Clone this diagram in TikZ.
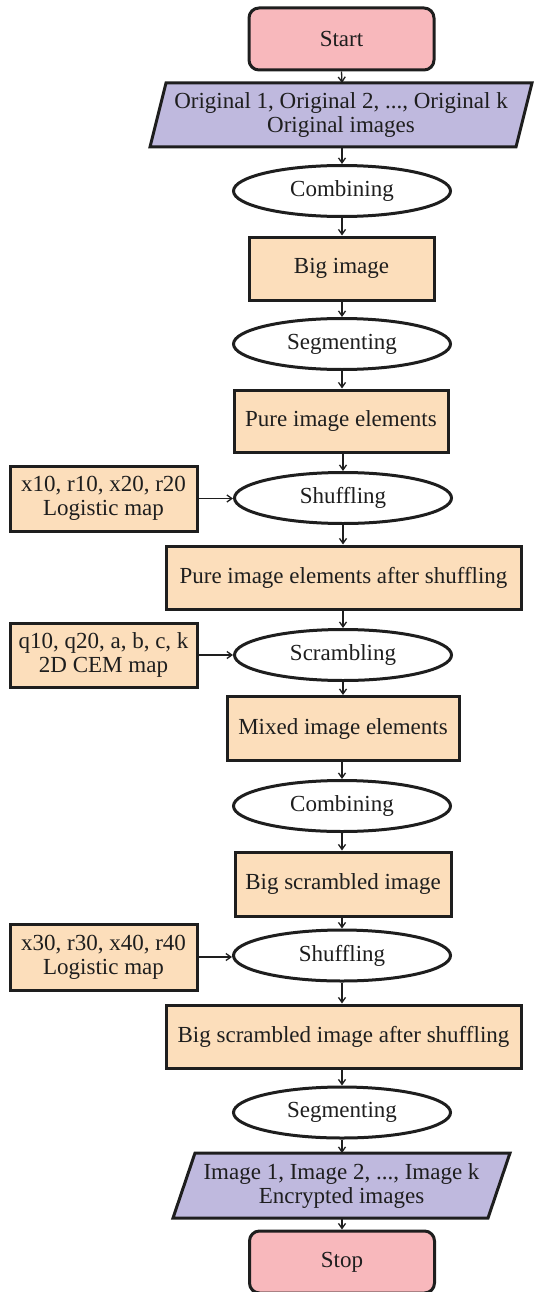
\documentclass[tikz,border=0pt]{standalone}
\usepackage{fontspec}
\setmainfont{Liberation Serif}
\usetikzlibrary{shapes.geometric,arrows.meta}
\definecolor{pinkc}{RGB}{248,184,188}
\definecolor{lavc}{RGB}{191,185,222}
\definecolor{peachc}{RGB}{252,222,187}
\definecolor{linec}{RGB}{30,30,30}
\begin{document}
\begin{tikzpicture}[x=1pt,y=-1pt,
  every node/.style={font=\fontsize{23}{24}\selectfont, text=linec, align=center, inner sep=0pt},
  term/.style={draw=linec, line width=3pt, rounded corners=10pt, fill=pinkc, minimum width=185pt, minimum height=62pt},
  proc/.style={draw=linec, line width=3pt, fill=peachc, minimum height=62pt},
  oval/.style={draw=linec, line width=3pt, ellipse, fill=white, minimum width=217pt, minimum height=51pt},
  iobox/.style={fill=lavc, draw=linec, line width=3pt, line join=miter},
  arr/.style={draw=linec, line width=1.3pt, -{Straight Barb[length=5pt,width=7pt]}}
]
\useasboundingbox (0,0) rectangle (533,1292);
% parallelogram outlines
\coordinate (inTL) at (166,83);
\coordinate (inTR) at (532,83);
\coordinate (inBR) at (516,147);
\coordinate (inBL) at (150,147);
\coordinate (outTL) at (195,1153);
\coordinate (outTR) at (510,1153);
\coordinate (outBR) at (488,1218);
\coordinate (outBL) at (173,1218);
\path[iobox] (inTL) -- (inTR) -- (inBR) -- (inBL) -- cycle;
\path[iobox] (outTL) -- (outTR) -- (outBR) -- (outBL) -- cycle;
% main column
\node[term] (start) at (341.5,39) {Start};
\node (in) at (341,115) {Original 1, Original 2, ..., Original k\\Original images};
\node[oval] (comb1) at (342,191) {Combining};
\node[proc, minimum width=185pt, minimum height=63pt] (big) at (341.5,268.5) {Big image};
\node[oval] (seg1) at (342,344) {Segmenting};
\node[proc, minimum width=214pt] (pure) at (341,421) {Pure image elements};
\node[oval] (shuf1) at (343,498) {Shuffling};
\node[proc, minimum width=355pt, minimum height=63pt] (pureafter) at (343.5,577.5) {Pure image elements after shuffling};
\node[oval] (scr) at (343,655) {Scrambling};
\node[proc, minimum width=232pt, minimum height=64pt] (mixed) at (343,728.5) {Mixed image elements};
\node[oval] (comb2) at (342,806) {Combining};
\node[proc, minimum width=216pt, minimum height=64pt] (bigscr) at (343,884) {Big scrambled image};
\node[oval] (shuf2) at (342,955.5) {Shuffling};
\node[proc, minimum width=355pt, minimum height=63pt] (bigafter) at (343.5,1036.5) {Big scrambled image after shuffling};
\node[oval] (seg2) at (342,1112.5) {Segmenting};
\node (out) at (341.5,1185.5) {Image 1, Image 2, ..., Image k\\Encrypted images};
\node[term] (stop) at (342,1262) {Stop};
% side inputs
\node[proc, minimum width=187pt, minimum height=65pt] (side1) at (103.5,498.5) {x10, r10, x20, r20\\Logistic map};
\node[proc, minimum width=187pt, minimum height=64pt] (side2) at (103.5,655) {q10, q20, a, b, c, k\\2D CEM map};
\node[proc, minimum width=187pt, minimum height=66pt] (side3) at (103.5,957) {x30, r30, x40, r40\\Logistic map};
\coordinate (inTop) at (342,83);
\coordinate (inBot) at (342,147);
\coordinate (outTop) at (342,1153);
\coordinate (outBot) at (342,1218);
% connectors
\draw[arr] (start.south) -- (inTop);
\draw[arr] (inBot) -- (comb1.north);
\draw[arr] (comb1.south) -- (comb1.south |- big.north);
\draw[arr] (big.south -| seg1.north) -- (seg1.north);
\draw[arr] (seg1.south) -- (seg1.south |- pure.north);
\draw[arr] (pure.south -| shuf1.north) -- (shuf1.north);
\draw[arr] (shuf1.south) -- (shuf1.south |- pureafter.north);
\draw[arr] (pureafter.south -| scr.north) -- (scr.north);
\draw[arr] (scr.south) -- (scr.south |- mixed.north);
\draw[arr] (mixed.south -| comb2.north) -- (comb2.north);
\draw[arr] (comb2.south) -- (comb2.south |- bigscr.north);
\draw[arr] (bigscr.south -| shuf2.north) -- (shuf2.north);
\draw[arr] (shuf2.south) -- (shuf2.south |- bigafter.north);
\draw[arr] (bigafter.south -| seg2.north) -- (seg2.north);
\draw[arr] (seg2.south) -- (outTop);
\draw[arr] (outBot) -- (stop.north);
\draw[arr] (side1.east) -- (side1.east -| shuf1.west);
\draw[arr] (side2.east) -- (side2.east -| scr.west);
\draw[arr] (side3.east) -- (side3.east -| shuf2.west);
\end{tikzpicture}
\end{document}
